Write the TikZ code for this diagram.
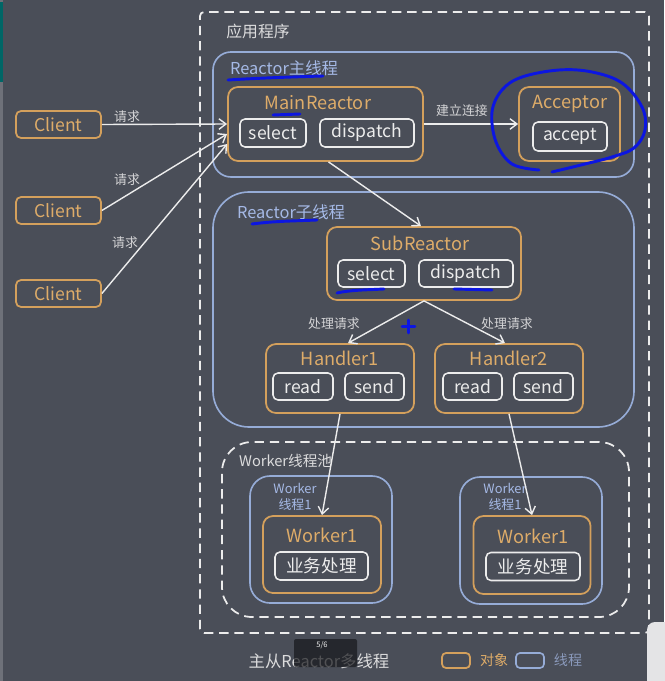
\documentclass[tikz,border=0pt]{standalone}
\usepackage{fontspec}
\setmainfont{Noto Sans CJK SC}
\usepackage{xcolor}
\usepackage{tikz}
\usetikzlibrary{arrows.meta, positioning}

\definecolor{bgc}{RGB}{74,78,88}
\definecolor{objc}{RGB}{212,160,92}
\definecolor{objtxt}{RGB}{222,172,105}
\definecolor{thrc}{RGB}{150,172,215}
\definecolor{thrtxt}{RGB}{165,185,230}
\definecolor{linec}{RGB}{236,236,236}
\definecolor{penc}{RGB}{12,22,225}

\newlength{\pxu}
\setlength{\pxu}{0.03cm}

\begin{document}
\begin{tikzpicture}[x=0.03cm, y=-0.03cm,
    % Styles
    obj/.style={
        rectangle,
        rounded corners=10\pxu,
        draw=objc,
        fill=bgc,
        line width=1.5pt,
        inner sep=0pt
    },
    client/.style={obj, rounded corners=5\pxu, minimum width=85\pxu, minimum height=27\pxu,
        text=objtxt, font=\fontsize{15pt}{17pt}\selectfont},
    thread/.style={
        rectangle,
        draw=thrc,
        line width=1.4pt,
        inner sep=0pt
    },
    op/.style={
        rectangle,
        rounded corners=5\pxu,
        draw=linec,
        fill=bgc,
        line width=1.3pt,
        inner sep=0pt,
        minimum height=28\pxu,
        text=linec,
        font=\fontsize{15pt}{17pt}\selectfont
    },
    objtitle/.style={text=objtxt, font=\fontsize{15.5pt}{18pt}\selectfont},
    thrlabel/.style={text=thrtxt, font=\fontsize{14pt}{16pt}\selectfont, anchor=west},
    poolbox/.style={draw=linec, line width=1.5pt, dash pattern=on 8pt off 5pt},
    arrow/.style={
        -{Straight Barb[length=6pt, width=9pt]},
        line width=1.2pt,
        color=linec
    },
    label/.style={font=\fontsize{11pt}{13pt}\selectfont, text=linec!85!bgc},
    pen/.style={draw=penc, line width=2.5pt, line cap=round, line join=round}
]

\useasboundingbox (0,0) rectangle (664,681);
\fill[bgc] (0,0) rectangle (664,681);
\fill[bgc!80!white] (0,0) rectangle (3,681);
\fill[teal!80!black] (0,2) rectangle (3,82);

% Application frame
\node[poolbox, rounded corners=4\pxu, minimum width=449\pxu, minimum height=621\pxu] (app) at (424.5,322.5) {};
\node[text=linec!90!bgc, font=\fontsize{13.5pt}{16pt}\selectfont] (appname) at (258,31) {应用程序};

% Reactor threads
\node[thread, rounded corners=18\pxu, minimum width=421\pxu, minimum height=125\pxu] (mainT) at (423.5,114.5) {};
\node[thrlabel] (mainTname) at (226,68) {Reactor主线程};
\node[thread, rounded corners=36\pxu, minimum width=421\pxu, minimum height=235\pxu] (subT) at (423.5,309.5) {};
\node[thrlabel] (subTname) at (233,212) {Reactor子线程};

% MainReactor and Acceptor
\node[obj, minimum width=195\pxu, minimum height=74\pxu] (mainR) at (325.5,124) {};
\node[objtitle] (mainRname) at (318,103) {MainReactor};
\node[op, minimum width=66\pxu] (mSelect) at (273,133) {select};
\node[op, minimum width=94\pxu] (mDispatch) at (367,133) {dispatch};

\node[obj, minimum width=101\pxu, minimum height=74\pxu] (acc) at (569.5,124) {};
\node[objtitle] (accname) at (570,104) {Acceptor};
\node[op, minimum width=74\pxu, minimum height=29\pxu] (accept) at (570,136.5) {accept};

% Clients
\node[client] (c1) at (58.5,124.5) {Client};
\node[client] (c2) at (58.5,210.5) {Client};
\node[client] (c3) at (58.5,293.5) {Client};

% SubReactor
\node[obj, minimum width=194\pxu, minimum height=73\pxu] (subR) at (424,263.5) {};
\node[objtitle] (subRname) at (420,243) {SubReactor};
\node[op, minimum width=67\pxu, minimum height=27\pxu] (sSelect) at (371.5,273.5) {select};
\node[op, minimum width=94\pxu, minimum height=27\pxu] (sDispatch) at (466,273.5) {dispatch};

% Handlers
\node[obj, minimum width=148\pxu, minimum height=69\pxu] (h1) at (340,378.5) {};
\node[objtitle] (h1name) at (340,358) {Handler1};
\node[op, minimum width=60\pxu, minimum height=27\pxu] (h1read) at (303,386.5) {read};
\node[op, minimum width=59\pxu, minimum height=27\pxu] (h1send) at (374.5,386.5) {send};

\node[obj, minimum width=148\pxu, minimum height=69\pxu] (h2) at (509,378.5) {};
\node[objtitle] (h2name) at (509,358) {Handler2};
\node[op, minimum width=59\pxu, minimum height=27\pxu] (h2read) at (472.5,386.5) {read};
\node[op, minimum width=59\pxu, minimum height=27\pxu] (h2send) at (543.5,386.5) {send};

% Worker pool
\node[poolbox, rounded corners=30\pxu, minimum width=407\pxu, minimum height=175\pxu] (pool) at (425.5,529.5) {};
\node[text=linec!90!bgc, font=\fontsize{12.5pt}{15pt}\selectfont, anchor=west] (poolname) at (235,461) {Worker线程池};

\node[thread, rounded corners=20\pxu, minimum width=142\pxu, minimum height=127\pxu] (wt1) at (321,539.5) {};
\node[thread, rounded corners=20\pxu, minimum width=142\pxu, minimum height=127\pxu] (wt2) at (531,540.5) {};
\node[text=thrtxt, align=center, font=\fontsize{11pt}{14pt}\selectfont] (wt1name) at (295,497) {Worker\\线程1};
\node[text=thrtxt, align=center, font=\fontsize{11pt}{14pt}\selectfont] (wt2name) at (505,497) {Worker\\线程1};

\node[obj, minimum width=118\pxu, minimum height=77\pxu] (wk1) at (322,554.5) {};
\node[objtitle] (wk1name) at (322,535) {Worker1};
\node[op, minimum width=93\pxu] (wk1job) at (321.5,566) {业务处理};
\node[obj, minimum width=117\pxu, minimum height=78\pxu] (wk2) at (532,555) {};
\node[objtitle] (wk2name) at (533,536) {Worker1};
\node[op, minimum width=94\pxu] (wk2job) at (533,566.5) {业务处理};

% Arrows
\draw[arrow] (c1.east) -- (mainR.west);
\draw[arrow] (c2.east) -- ([yshift=-10\pxu]mainR.west);
\draw[arrow] (c3.east) -- ([yshift=-20\pxu]mainR.west);
\draw[arrow] (mainR.east) -- (acc.west);
\draw[arrow] ([xshift=3\pxu]mainR.south) -- ([xshift=-3\pxu]subR.north);
\draw[arrow] (subR.south) -- ([xshift=8\pxu]h1.north);
\draw[arrow] (subR.south) -- ([xshift=-4\pxu]h2.north);
\draw[arrow] (h1.south) -- (wk1.north);
\draw[arrow] (h2.south) -- (wk2.north);

% Arrow labels
\node[label] (req1) at (127,117) {请求};
\node[label] (req2) at (127,180) {请求};
\node[label] (req3) at (125,243) {请求};
\node[label] (conn) at (462,111) {建立连接};
\node[label] (proc1) at (334,324) {处理请求};
\node[label] (proc2) at (507,324) {处理请求};

% Caption and legend
\node[text=linec!90!bgc, inner sep=0pt, font=\fontsize{14pt}{16pt}\selectfont] (caption) at (319,661) {主从Reactor多线程};
\fill[black!70!bgc, opacity=0.7, rounded corners=2\pxu] (294,639) rectangle (357,667);
\node[text=linec, inner sep=0pt, font=\fontsize{6.5pt}{7pt}\selectfont] (page) at (322,645) {5/6};

\node[obj, rounded corners=4\pxu, minimum width=28\pxu, minimum height=15\pxu] (legObj) at (456,660.5) {};
\node[text=objtxt, font=\fontsize{12pt}{14pt}\selectfont, right=5\pxu of legObj] (legObjname) {对象};
\node[thread, rounded corners=4\pxu, minimum width=28\pxu, minimum height=15\pxu] (legThr) at (530,660.5) {};
\node[text=thrtxt!70!bgc, font=\fontsize{12pt}{14pt}\selectfont, right=5\pxu of legThr] (legThrname) {线程};
\fill[white!85!bgc, rounded corners=8\pxu] (647,622) rectangle (680,690);

% Hand-drawn marks
\draw[pen] (228,80) .. controls (260,78) and (290,77) .. (323,76);
\draw[pen] (273,115) -- (300,114);
\draw[pen] (252,224) .. controls (275,221) and (295,221) .. (317,220);
\draw[pen] (337,293) .. controls (350,290) and (365,290) .. (384,289);
\draw[pen] (454,289) -- (492,290);
\draw[pen] (402,326.5) -- (415,326.5) (408.5,320) -- (408.5,333);
\draw[pen] plot[smooth, tension=0.6] coordinates {(539,170) (512,164) (496,142) (492,112) (502,90)
    (522,77) (559,70) (592,72) (622,83) (642,107) (645,130) (634,148) (612,157) (585,164) (552,172)};

\end{tikzpicture}
\end{document}
